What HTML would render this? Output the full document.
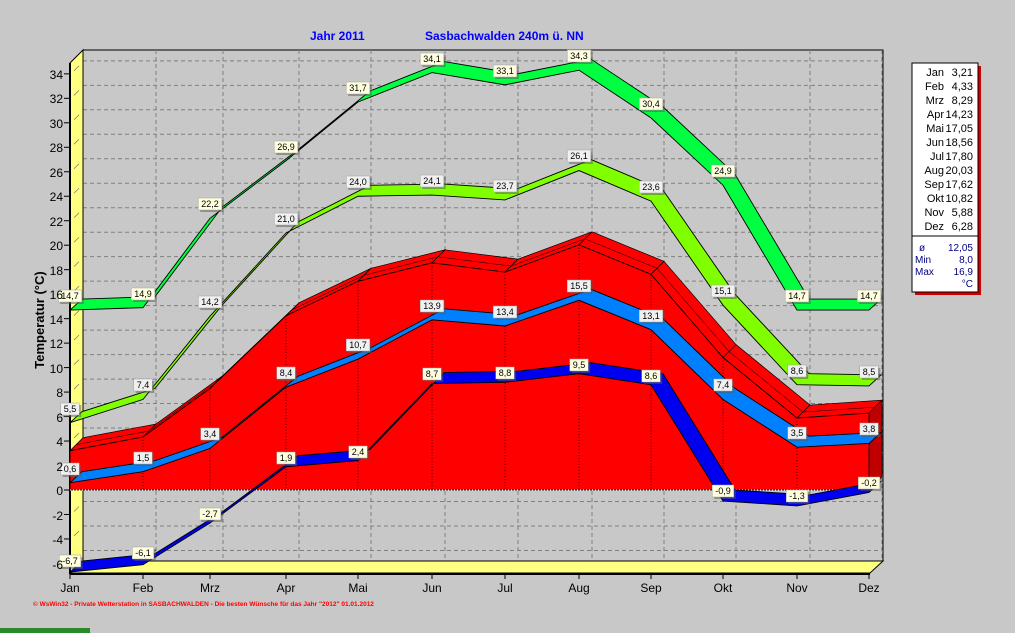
<!DOCTYPE html>
<html><head><meta charset="utf-8"><style>
body{margin:0;background:#c8c8c8;}
svg{display:block;font-family:"Liberation Sans",sans-serif;}
.l{font-size:9px;text-anchor:middle;fill:#000;}
.t{font-size:12px;fill:#000;text-anchor:end;}
.lg{font-size:11px;fill:#000;text-anchor:end;}
.lb{font-size:10px;fill:#000080;}
</style></head><body>
<svg id="s" width="1015" height="633" viewBox="0 0 1015 633">
<rect width="1015" height="633" fill="#c8c8c8"/>
<rect x="0" y="628" width="90" height="5" fill="#2a8a2a"/>
<text x="310" y="40" style="font-size:12px;font-weight:bold;fill:#0000ff">Jahr  2011</text>
<text x="425" y="40" style="font-size:12px;font-weight:bold;fill:#0000ff">Sasbachwalden  240m ü. NN</text>
<g id="grid"></g>
<g id="series"></g>
<g id="labels">
<text class="l" x="70" y="299">14,7</text><text class="l" x="143" y="297">14,9</text><text class="l" x="210" y="207">22,2</text><text class="l" x="286" y="150">26,9</text><text class="l" x="358" y="91">31,7</text><text class="l" x="432" y="62">34,1</text><text class="l" x="505" y="74">33,1</text><text class="l" x="579" y="59">34,3</text><text class="l" x="651" y="107">30,4</text><text class="l" x="723" y="174">24,9</text><text class="l" x="797" y="299">14,7</text><text class="l" x="869" y="299">14,7</text>
<text class="l" x="70" y="412">5,5</text><text class="l" x="143" y="388">7,4</text><text class="l" x="210" y="305">14,2</text><text class="l" x="286" y="222">21,0</text><text class="l" x="358" y="185">24,0</text><text class="l" x="432" y="184">24,1</text><text class="l" x="505" y="189">23,7</text><text class="l" x="579" y="159">26,1</text><text class="l" x="651" y="190">23,6</text><text class="l" x="723" y="294">15,1</text><text class="l" x="797" y="374">8,6</text><text class="l" x="869" y="375">8,5</text>
<text class="l" x="70" y="472">0,6</text><text class="l" x="143" y="461">1,5</text><text class="l" x="210" y="437">3,4</text><text class="l" x="286" y="376">8,4</text><text class="l" x="358" y="348">10,7</text><text class="l" x="432" y="309">13,9</text><text class="l" x="505" y="315">13,4</text><text class="l" x="579" y="289">15,5</text><text class="l" x="651" y="319">13,1</text><text class="l" x="723" y="388">7,4</text><text class="l" x="797" y="436">3,5</text><text class="l" x="869" y="432">3,8</text>
<text class="l" x="70" y="564">-6,7</text><text class="l" x="143" y="556">-6,1</text><text class="l" x="210" y="517">-2,7</text><text class="l" x="286" y="461">1,9</text><text class="l" x="358" y="455">2,4</text><text class="l" x="432" y="377">8,7</text><text class="l" x="505" y="376">8,8</text><text class="l" x="579" y="368">9,5</text><text class="l" x="651" y="379">8,6</text><text class="l" x="723" y="494">-0,9</text><text class="l" x="797" y="499">-1,3</text><text class="l" x="869" y="486">-0,2</text>
</g>
<g id="axis">
<text class="t" x="63" y="79">34</text><text class="t" x="63" y="103">32</text><text class="t" x="63" y="128">30</text><text class="t" x="63" y="152">28</text><text class="t" x="63" y="177">26</text><text class="t" x="63" y="201">24</text><text class="t" x="63" y="226">22</text><text class="t" x="63" y="250">20</text><text class="t" x="63" y="275">18</text><text class="t" x="63" y="299">16</text><text class="t" x="63" y="324">14</text><text class="t" x="63" y="348">12</text><text class="t" x="63" y="373">10</text><text class="t" x="63" y="397">8</text><text class="t" x="63" y="422">6</text><text class="t" x="63" y="446">4</text><text class="t" x="63" y="471">2</text><text class="t" x="63" y="495">0</text><text class="t" x="63" y="520">-2</text><text class="t" x="63" y="544">-4</text><text class="t" x="63" y="569">-6</text>
<g style="font-size:12px;text-anchor:middle">
<text x="70" y="592">Jan</text><text x="143" y="592">Feb</text><text x="210" y="592">Mrz</text><text x="286" y="592">Apr</text><text x="358" y="592">Mai</text><text x="432" y="592">Jun</text><text x="505" y="592">Jul</text><text x="579" y="592">Aug</text><text x="651" y="592">Sep</text><text x="723" y="592">Okt</text><text x="797" y="592">Nov</text><text x="869" y="592">Dez</text>
</g>
<text transform="translate(44,320) rotate(-90)" style="font-size:13px;font-weight:bold;text-anchor:middle">Temperatur  (°C)</text>
<text x="33" y="606" style="font-size:6.5px;fill:#ff0000;font-weight:bold">© WsWin32  -  Private Wetterstation in SASBACHWALDEN  -  Die besten Wünsche für das Jahr "2012"   01.01.2012</text>
</g>
<g id="legend">
<rect x="915" y="66" width="66" height="229" fill="#d00000"/>
<rect x="912" y="63" width="66" height="229" fill="#fff" stroke="#000"/>
<line x1="912" y1="236" x2="978" y2="236" stroke="#000"/>
<text class="lg" x="944" y="76">Jan</text><text class="lg" x="973" y="76">3,21</text>
<text class="lg" x="944" y="90">Feb</text><text class="lg" x="973" y="90">4,33</text>
<text class="lg" x="944" y="104">Mrz</text><text class="lg" x="973" y="104">8,29</text>
<text class="lg" x="944" y="118">Apr</text><text class="lg" x="973" y="118">14,23</text>
<text class="lg" x="944" y="132">Mai</text><text class="lg" x="973" y="132">17,05</text>
<text class="lg" x="944" y="146">Jun</text><text class="lg" x="973" y="146">18,56</text>
<text class="lg" x="944" y="160">Jul</text><text class="lg" x="973" y="160">17,80</text>
<text class="lg" x="944" y="174">Aug</text><text class="lg" x="973" y="174">20,03</text>
<text class="lg" x="944" y="188">Sep</text><text class="lg" x="973" y="188">17,62</text>
<text class="lg" x="944" y="202">Okt</text><text class="lg" x="973" y="202">10,82</text>
<text class="lg" x="944" y="216">Nov</text><text class="lg" x="973" y="216">5,88</text>
<text class="lg" x="944" y="230">Dez</text><text class="lg" x="973" y="230">6,28</text>
<text class="lb" x="919" y="251">ø</text><text class="lb" x="973" y="251" text-anchor="end">12,05</text>
<text class="lb" x="915" y="263">Min</text><text class="lb" x="973" y="263" text-anchor="end">8,0</text>
<text class="lb" x="915" y="275">Max</text><text class="lb" x="973" y="275" text-anchor="end">16,9</text>
<text class="lb" x="973" y="287" text-anchor="end">°C</text>
</g>
</svg>
<script>
var NS="http://www.w3.org/2000/svg";
function el(p,t,a){var e=document.createElementNS(NS,t);for(var k in a)e.setAttribute(k,a[k]);p.appendChild(e);return e;}
var X=[70,143,210,286,358,432,505,579,651,723,797,869];
function Y(v){return 490-12.24*v;}
var D=13;
var g=document.getElementById("grid");
el(g,"rect",{x:83,y:50,width:800,height:511,fill:"#c8c8c8",stroke:"#000","stroke-width":1});
for(var v=-6;v<=34;v+=2){var y=Y(v)-D;el(g,"line",{x1:83,y1:y,x2:883,y2:y,stroke:"#808080","stroke-dasharray":"4,3"});}
for(var i=1;i<12;i++){el(g,"line",{x1:X[i]+D,y1:50,x2:X[i]+D,y2:561,stroke:"#808080","stroke-dasharray":"4,3"});}
el(g,"polygon",{points:"70,63 83,50 83,561 70,573",fill:"#ffff80",stroke:"#000"});
el(g,"line",{x1:70,y1:63,x2:70,y2:574,stroke:"#000","stroke-width":2});
el(g,"polygon",{points:"70,573 83,561 883,561 870,573",fill:"#ffff80",stroke:"#000"});
el(g,"line",{x1:70,y1:574,x2:870,y2:574,stroke:"#000","stroke-width":2});
for(var v=-6;v<=34;v+=2){el(g,"line",{x1:64,y1:Y(v),x2:70,y2:Y(v),stroke:"#000"});el(g,"line",{x1:74,y1:Y(v)-3,x2:79,y2:Y(v)-8,stroke:"#777","stroke-width":0.7});}
for(var i=0;i<12;i++){el(g,"line",{x1:X[i],y1:574,x2:X[i],y2:579,stroke:"#000"});}
var s=document.getElementById("series");
var red=[3.21,4.33,8.29,14.23,17.05,18.56,17.80,20.03,17.62,10.82,5.88,6.28];
// red top face, per segment
for(var i=0;i<11;i++){
 var a=X[i],b=X[i+1],ya=Y(red[i]),yb=Y(red[i+1]);
 el(s,"polygon",{points:a+","+ya+" "+b+","+yb+" "+(b+D)+","+(yb-D)+" "+(a+D)+","+(ya-D),fill:"#ff0000",stroke:"#000","stroke-width":0.7});
 el(s,"line",{x1:a+6,y1:ya-6,x2:b+6,y2:yb-6,stroke:"#000","stroke-width":0.5});
}
el(s,"polygon",{points:"869,"+Y(6.28)+" 882,"+(Y(6.28)-D)+" 882,477 869,490",fill:"#c00000",stroke:"#000","stroke-width":0.6});
var f="70,490 ";for(var i=0;i<12;i++)f+=X[i]+","+Y(red[i])+" ";f+="869,490";
el(s,"polygon",{points:f,fill:"#ff0000",stroke:"#000","stroke-width":0.8});
for(var i=1;i<12;i++)el(s,"line",{x1:X[i],y1:Y(red[i]),x2:X[i],y2:490,stroke:"#000","stroke-dasharray":"1,2","stroke-width":0.8});
el(s,"line",{x1:70,y1:490,x2:869,y2:490,stroke:"#fff","stroke-dasharray":"1,2"});
function ribbon(d,c){var p="";for(var i=0;i<12;i++)p+=X[i]+","+Y(d[i])+" ";for(var i=11;i>=0;i--)p+=(X[i]+12)+","+(Y(d[i])-11)+" ";el(s,"polygon",{points:p,fill:c,stroke:"#000","stroke-width":0.9});}
ribbon([-6.7,-6.1,-2.7,1.9,2.4,8.7,8.8,9.5,8.6,-0.9,-1.3,-0.2],"#0000f0");
ribbon([0.6,1.5,3.4,8.4,10.7,13.9,13.4,15.5,13.1,7.4,3.5,3.8],"#0080ff");
ribbon([5.5,7.4,14.2,21.0,24.0,24.1,23.7,26.1,23.6,15.1,8.6,8.5],"#80ff00");
ribbon([14.7,14.9,22.2,26.9,31.7,34.1,33.1,34.3,30.4,24.9,14.7,14.7],"#00ff40");
var L=document.getElementById("labels");var ts=L.querySelectorAll("text");
for(var k=0;k<ts.length;k++){var t=ts[k];var b=t.getBBox();
var r=document.createElementNS(NS,"rect");r.setAttribute("x",b.x-3);r.setAttribute("y",b.y-1);r.setAttribute("width",b.width+6);r.setAttribute("height",b.height+2);
r.setAttribute("fill",(k<12||k>=36)?"#ffffe0":"#f0f0f0");r.setAttribute("stroke","#a0a0a0");r.setAttribute("stroke-width","0.5");
var sh=document.createElementNS(NS,"rect");sh.setAttribute("x",b.x-1);sh.setAttribute("y",b.y+1);sh.setAttribute("width",b.width+6);sh.setAttribute("height",b.height+2);sh.setAttribute("fill","#555");sh.setAttribute("opacity","0.5");
L.insertBefore(sh,t);L.insertBefore(r,t);}
</script>
</body></html>
